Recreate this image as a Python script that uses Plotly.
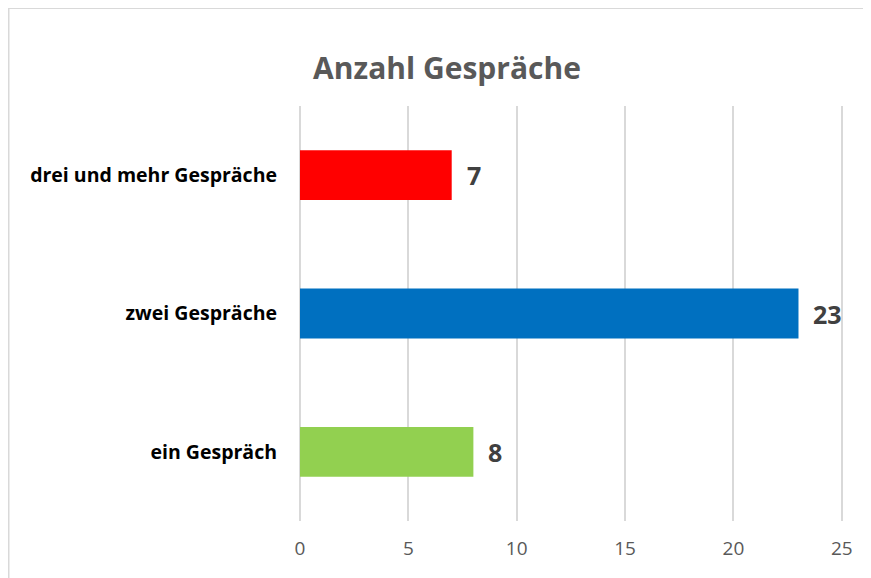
import plotly.graph_objects as go

categories = ["ein Gespräch", "zwei Gespräche", "drei und mehr Gespräche"]
values = [8, 23, 7]
colors = ["#92D050", "#0070C0", "#FF0000"]
tick_vals = [0, 5, 10, 15, 20, 25]
title_text = "Anzahl Gespräche"

# page body adds an 8px offset; figure is sized/positioned to compensate
W, H = 863, 570
L, T = 292, 98
PW, PH = 544, 415
R = W - L - PW
B = H - T - PH

fig = go.Figure(
    go.Bar(
        x=values,
        y=categories,
        orientation="h",
        marker=dict(color=colors, line=dict(width=0)),
        width=0.36,
        hoverinfo="skip",
    )
)

annotations = [
    dict(
        x=v, y=c, xref="x", yref="y", text=f"<b>{v}</b>", showarrow=False,
        xanchor="left", xshift=13,
        font=dict(family="Open Sans", size=25, color="#404040"),
    )
    for v, c in zip(values, categories)
]

def px_x(p):
    return (p - L) / PW
def px_y(p):
    return 1 - (p - T) / PH

fig.update_layout(
    width=W, height=H,
    margin=dict(l=L, r=R, t=T, b=B),
    paper_bgcolor="white", plot_bgcolor="white",
    showlegend=False,
    title=dict(
        text=f"<b>{title_text}</b>",
        x=439 / W, xref="container", xanchor="center",
        y=1 - 60 / H, yanchor="middle",
        font=dict(family="Open Sans", size=30, color="#595959"),
    ),
    xaxis=dict(
        range=[0, 25.1], tickvals=tick_vals,
        showgrid=True, gridcolor="#D9D9D9", gridwidth=1.5,
        zeroline=True, zerolinecolor="#D9D9D9", zerolinewidth=1.5,
        showline=False, ticks="",
        tickfont=dict(family="Open Sans", size=19, color="#595959"),
        ticklabelstandoff=14,
        fixedrange=True,
        layer="below traces",
    ),
    yaxis=dict(
        categoryorder="array", categoryarray=categories,
        showgrid=False, zeroline=False, showline=False, ticks="",
        tickfont=dict(family="Open Sans", size=19.5, color="#000000", weight="bold"),
        ticklabelstandoff=22,
        fixedrange=True,
    ),
    annotations=annotations,
    shapes=[
        dict(type="rect", xref="paper", yref="paper",
             x0=px_x(0.5), x1=px_x(W + 20), y0=px_y(H + 20), y1=px_y(0),
             line=dict(color="#D9D9D9", width=2), fillcolor="rgba(0,0,0,0)",
             layer="below"),
    ],
)

fig.write_html("out.html")
